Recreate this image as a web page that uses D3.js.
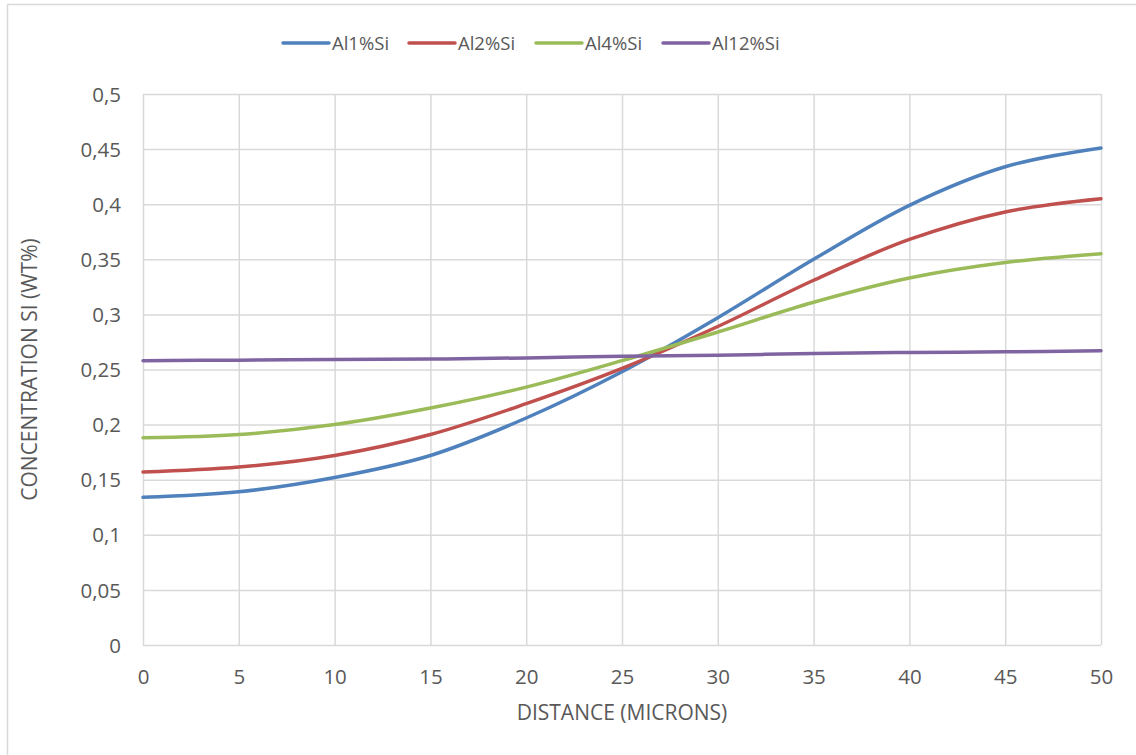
<!DOCTYPE html>
<html>
<head>
<meta charset="utf-8">
<script src="https://cdn.jsdelivr.net/npm/d3@7/dist/d3.min.js"></script>
<style>
  body { margin: 0; background: #fff; }
  svg { display: block; }
  text { font-family: "Open Sans", "Noto Sans", sans-serif; fill: #595959; }
</style>
</head>
<body>
<svg id="chart" width="1136" height="755"></svg>
<script>
// Distance along the diffusion zone (microns)
const distance = [0, 5, 10, 15, 20, 25, 30, 35, 40, 45, 50];

// Si concentration profiles (wt%) for each alloy
const al1 = [0.134, 0.139, 0.152, 0.172, 0.206, 0.248, 0.297, 0.350, 0.399, 0.434, 0.451];
const al2 = [0.157, 0.1615, 0.172, 0.191, 0.219, 0.251, 0.289, 0.331, 0.368, 0.393, 0.405];
const al4 = [0.188, 0.191, 0.200, 0.215, 0.234, 0.258, 0.284, 0.311, 0.333, 0.347, 0.355];
const al12 = [0.258, 0.2585, 0.259, 0.2595, 0.2605, 0.262, 0.263, 0.2645, 0.2655, 0.266, 0.267];

const seriesNames = ["Al1%Si", "Al2%Si", "Al4%Si", "Al12%Si"];
const seriesColors = ["#4f81bd", "#c0504d", "#9bbb59", "#8064a2"];
const seriesValues = [al1, al2, al4, al12];

const xTicks = [0, 5, 10, 15, 20, 25, 30, 35, 40, 45, 50];
const yTicks = [0, 0.05, 0.1, 0.15, 0.2, 0.25, 0.3, 0.35, 0.4, 0.45, 0.5];

const svg = d3.select("#chart");
const plotLeft = 143, plotRight = 1101, plotTop = 94, plotBottom = 645;
const tickFont = 20.5, titleFont = 21, legendFont = 18.5;
const fontFamily = "'Open Sans', 'Noto Sans', sans-serif";

// chart frame
svg.append("rect")
  .attr("x", 7.5).attr("y", 4.5)
  .attr("width", 1140).attr("height", 760)
  .attr("fill", "none").attr("stroke", "#d9d9d9").attr("stroke-width", 1.5);

const x = d3.scaleLinear().domain([0, 50]).range([plotLeft, plotRight]);
const y = d3.scaleLinear().domain([0, 0.5]).range([plotBottom, plotTop]);
const fmt = v => String(+v.toFixed(2)).replace(".", ",");

// vertical gridlines
svg.append("g")
  .attr("transform", `translate(0,${plotBottom})`)
  .call(d3.axisBottom(x).tickValues(xTicks).tickSize(-(plotBottom - plotTop)).tickFormat(""))
  .call(g => g.select(".domain").remove())
  .call(g => g.selectAll("line").attr("stroke", "#d9d9d9").attr("stroke-width", 1.5));

// horizontal gridlines
svg.append("g")
  .attr("transform", `translate(${plotLeft},0)`)
  .call(d3.axisLeft(y).tickValues(yTicks).tickSize(-(plotRight - plotLeft)).tickFormat(""))
  .call(g => g.select(".domain").remove())
  .call(g => g.selectAll("line").attr("stroke", "#d9d9d9").attr("stroke-width", 1.5));

// x tick labels
svg.append("g")
  .attr("transform", `translate(0,${plotBottom})`)
  .call(d3.axisBottom(x).tickValues(xTicks).tickSize(0).tickPadding(0).tickFormat(d => d))
  .call(g => g.select(".domain").remove())
  .call(g => g.selectAll("text").attr("y", 39).attr("dy", null)
    .attr("font-size", tickFont).style("font-family", fontFamily).attr("fill", "#595959"));

// y tick labels
svg.append("g")
  .attr("transform", `translate(${plotLeft},0)`)
  .call(d3.axisLeft(y).tickValues(yTicks).tickSize(0).tickPadding(22).tickFormat(fmt))
  .call(g => g.select(".domain").remove())
  .call(g => g.selectAll("text").attr("dy", "0.35em")
    .attr("font-size", tickFont).style("font-family", fontFamily).attr("fill", "#595959"));

// smoothed profile curves
const line = d3.line()
  .x((d, i) => x(distance[i]))
  .y(d => y(d))
  .curve(d3.curveCatmullRom.alpha(0.5));

seriesValues.forEach((vals, i) => {
  svg.append("path")
    .datum(vals)
    .attr("d", line)
    .attr("fill", "none")
    .attr("stroke", seriesColors[i])
    .attr("stroke-width", 3.5)
    .attr("stroke-linecap", "round");
});

// axis titles
svg.append("text")
  .attr("x", (plotLeft + plotRight) / 2).attr("y", 720)
  .attr("text-anchor", "middle").attr("font-size", titleFont)
  .text("DISTANCE (MICRONS)");

svg.append("text")
  .attr("transform", `translate(37,${(plotTop + plotBottom) / 2}) rotate(-90)`)
  .attr("text-anchor", "middle").attr("font-size", titleFont)
  .text("CONCENTRATION SI (WT%)");

// legend
const legendX = [283, 409, 536, 663];
seriesNames.forEach((name, i) => {
  const g = svg.append("g").attr("transform", `translate(${legendX[i]},43)`);
  g.append("line").attr("x1", 0).attr("x2", 46).attr("y1", 0).attr("y2", 0)
    .attr("stroke", seriesColors[i]).attr("stroke-width", 3.5).attr("stroke-linecap", "round");
  g.append("text").attr("x", 49).attr("y", 7).attr("font-size", legendFont).text(name);
});
</script>
</body>
</html>
